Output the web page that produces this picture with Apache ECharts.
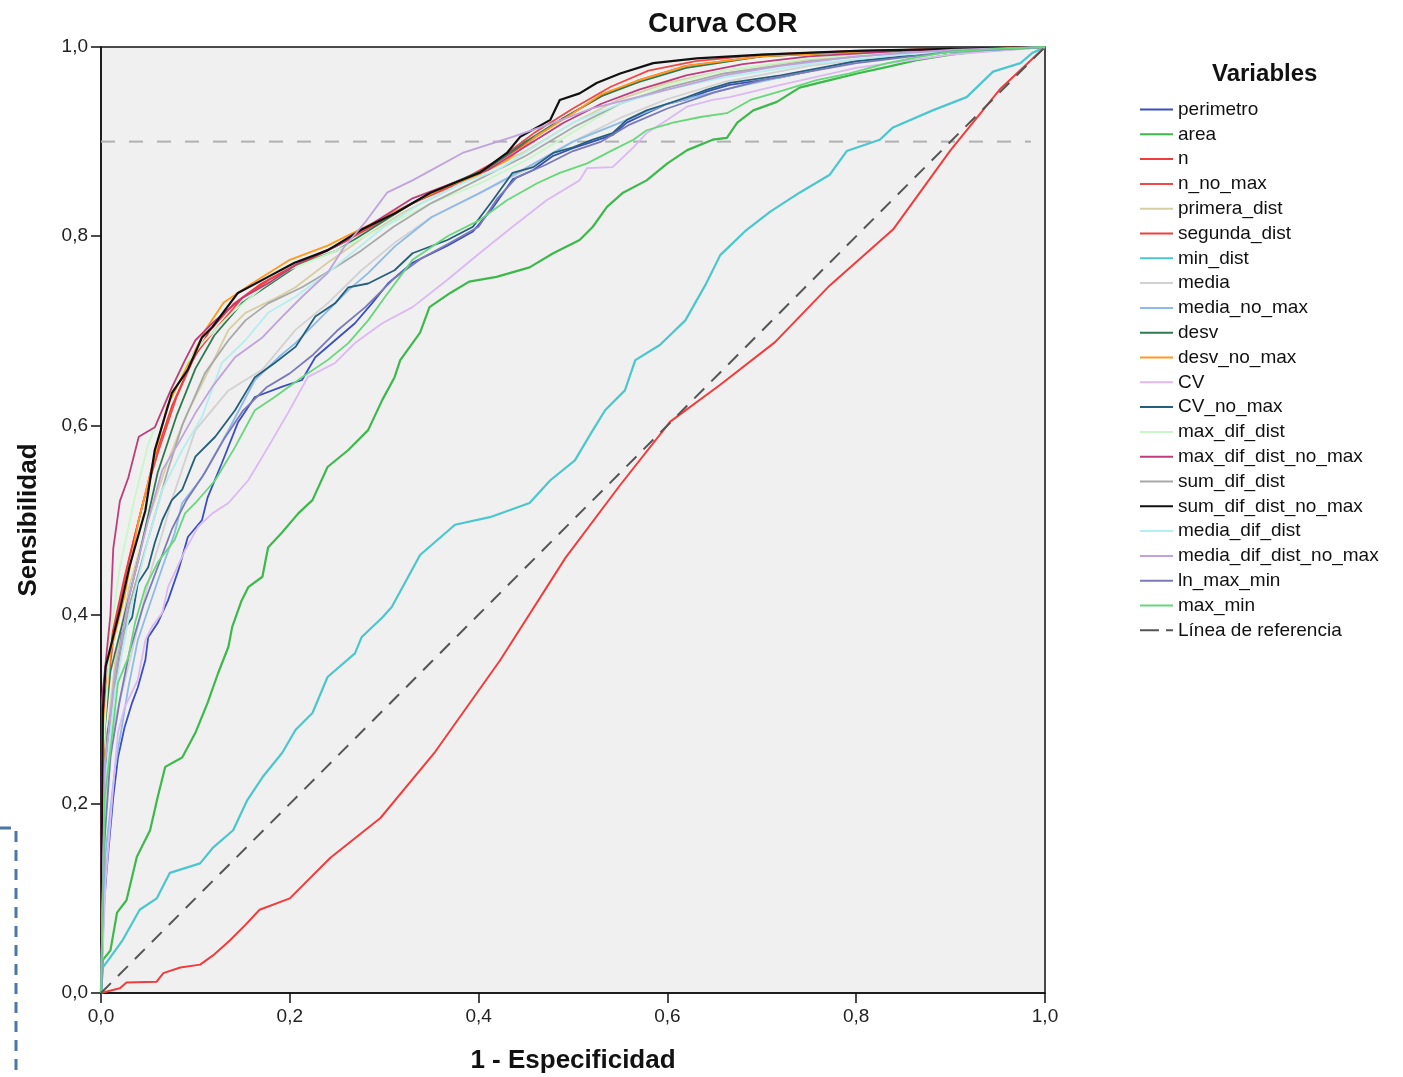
<!DOCTYPE html>
<html>
<head>
<meta charset="utf-8">
<script src="https://cdn.jsdelivr.net/npm/echarts@6/dist/echarts.min.js"></script>
<style>
  html, body { margin: 0; padding: 0; background: #fff; }
  #roc { width: 1403px; height: 1077px; }
</style>
</head>
<body>
<div id="roc"></div>
<script>
// curvas COR: [1 - especificidad, sensibilidad]
var perimetro = [[0,0],[0.003,0.09],[0.006,0.13],[0.013,0.207],[0.018,0.249],[0.025,0.281],[0.033,0.307],[0.039,0.323],[0.047,0.352],[0.05,0.376],[0.06,0.391],[0.071,0.415],[0.082,0.447],[0.092,0.482],[0.107,0.5],[0.113,0.524],[0.128,0.56],[0.145,0.603],[0.163,0.63],[0.192,0.641],[0.213,0.648],[0.227,0.672],[0.248,0.69],[0.269,0.708],[0.287,0.729],[0.304,0.75],[0.33,0.772],[0.367,0.79],[0.394,0.805],[0.415,0.83],[0.436,0.86],[0.458,0.87],[0.479,0.885],[0.5,0.893],[0.521,0.9],[0.542,0.907],[0.557,0.92],[0.578,0.93],[0.6,0.94],[0.621,0.945],[0.642,0.953],[0.666,0.96],[0.72,0.968],[0.8,0.985],[0.9,0.995],[1,1]];
var area = [[0,0],[0.002,0.035],[0.01,0.045],[0.017,0.085],[0.027,0.098],[0.038,0.144],[0.052,0.172],[0.06,0.207],[0.068,0.239],[0.086,0.249],[0.1,0.275],[0.113,0.307],[0.124,0.338],[0.135,0.366],[0.139,0.387],[0.149,0.415],[0.156,0.429],[0.171,0.44],[0.177,0.471],[0.192,0.487],[0.209,0.507],[0.224,0.521],[0.24,0.556],[0.262,0.574],[0.283,0.595],[0.298,0.627],[0.311,0.651],[0.317,0.669],[0.338,0.698],[0.348,0.725],[0.37,0.74],[0.39,0.752],[0.419,0.757],[0.454,0.767],[0.479,0.782],[0.507,0.796],[0.521,0.81],[0.536,0.831],[0.553,0.846],[0.578,0.859],[0.6,0.877],[0.621,0.891],[0.648,0.902],[0.663,0.904],[0.674,0.92],[0.691,0.933],[0.716,0.942],[0.74,0.957],[0.772,0.965],[0.801,0.972],[0.833,0.979],[0.864,0.986],[0.9,0.992],[0.928,0.995],[1,1]];
var n = [[0,0],[0.02,0.005],[0.027,0.011],[0.059,0.012],[0.066,0.021],[0.084,0.027],[0.105,0.03],[0.119,0.04],[0.137,0.056],[0.153,0.072],[0.168,0.088],[0.2,0.1],[0.243,0.143],[0.296,0.185],[0.354,0.255],[0.423,0.352],[0.492,0.46],[0.55,0.537],[0.603,0.604],[0.656,0.643],[0.714,0.688],[0.772,0.748],[0.839,0.807],[0.9,0.891],[0.952,0.955],[1,1]];
var n_no_max = [[0,0],[0.004,0.3],[0.015,0.39],[0.03,0.46],[0.045,0.52],[0.06,0.57],[0.08,0.63],[0.1,0.675],[0.12,0.7],[0.15,0.735],[0.18,0.755],[0.22,0.775],[0.26,0.795],[0.3,0.82],[0.34,0.84],[0.38,0.858],[0.42,0.88],[0.46,0.91],[0.5,0.935],[0.54,0.958],[0.58,0.975],[0.63,0.985],[0.7,0.992],[0.8,0.996],[1,1]];
var primera_dist = [[0,0],[0.004,0.25],[0.015,0.35],[0.03,0.43],[0.05,0.5],[0.07,0.56],[0.09,0.61],[0.118,0.666],[0.135,0.701],[0.153,0.719],[0.188,0.736],[0.206,0.746],[0.24,0.772],[0.28,0.8],[0.32,0.825],[0.36,0.845],[0.4,0.865],[0.45,0.89],[0.5,0.92],[0.55,0.945],[0.6,0.962],[0.66,0.975],[0.75,0.987],[0.85,0.995],[1,1]];
var segunda_dist = [[0,0],[0.003,0.3],[0.012,0.38],[0.025,0.44],[0.04,0.5],[0.055,0.56],[0.075,0.62],[0.095,0.665],[0.115,0.7],[0.14,0.728],[0.17,0.75],[0.21,0.772],[0.25,0.79],[0.29,0.812],[0.33,0.835],[0.37,0.852],[0.41,0.872],[0.45,0.898],[0.49,0.925],[0.53,0.948],[0.57,0.965],[0.62,0.98],[0.7,0.99],[0.8,0.996],[1,1]];
var min_dist = [[0,0],[0.002,0.027],[0.01,0.038],[0.023,0.056],[0.041,0.088],[0.059,0.1],[0.073,0.127],[0.105,0.137],[0.119,0.154],[0.14,0.172],[0.155,0.204],[0.171,0.228],[0.192,0.254],[0.206,0.278],[0.224,0.296],[0.24,0.334],[0.269,0.359],[0.276,0.376],[0.298,0.397],[0.308,0.408],[0.338,0.463],[0.375,0.495],[0.412,0.503],[0.454,0.518],[0.476,0.542],[0.502,0.563],[0.518,0.59],[0.534,0.616],[0.555,0.637],[0.566,0.669],[0.592,0.685],[0.619,0.711],[0.64,0.748],[0.656,0.78],[0.682,0.805],[0.709,0.826],[0.74,0.846],[0.772,0.865],[0.79,0.89],[0.825,0.902],[0.839,0.915],[0.881,0.933],[0.917,0.947],[0.945,0.974],[0.974,0.983],[0.987,0.994],[1,1]];
var media = [[0,0],[0.005,0.2],[0.015,0.29],[0.029,0.345],[0.054,0.45],[0.065,0.486],[0.075,0.521],[0.1,0.595],[0.135,0.637],[0.171,0.659],[0.206,0.701],[0.24,0.729],[0.276,0.764],[0.311,0.793],[0.35,0.82],[0.4,0.845],[0.45,0.87],[0.5,0.9],[0.55,0.925],[0.6,0.945],[0.66,0.963],[0.75,0.98],[0.85,0.992],[1,1]];
var media_no_max = [[0,0],[0.005,0.15],[0.015,0.239],[0.029,0.323],[0.039,0.373],[0.047,0.397],[0.065,0.45],[0.078,0.486],[0.086,0.518],[0.107,0.545],[0.135,0.595],[0.163,0.648],[0.188,0.672],[0.206,0.687],[0.234,0.715],[0.262,0.743],[0.283,0.761],[0.311,0.789],[0.35,0.82],[0.4,0.845],[0.45,0.872],[0.5,0.9],[0.55,0.92],[0.6,0.94],[0.66,0.955],[0.72,0.968],[0.8,0.985],[0.9,0.995],[1,1]];
var desv = [[0,0],[0.003,0.27],[0.01,0.34],[0.025,0.4],[0.04,0.46],[0.06,0.55],[0.08,0.61],[0.1,0.66],[0.12,0.695],[0.15,0.73],[0.18,0.75],[0.21,0.77],[0.25,0.785],[0.29,0.81],[0.33,0.835],[0.37,0.855],[0.41,0.872],[0.45,0.9],[0.49,0.925],[0.53,0.948],[0.57,0.963],[0.62,0.978],[0.7,0.99],[0.8,0.995],[1,1]];
var desv_no_max = [[0,0],[0.003,0.28],[0.01,0.36],[0.025,0.42],[0.04,0.5],[0.055,0.56],[0.07,0.62],[0.09,0.66],[0.11,0.7],[0.13,0.73],[0.16,0.75],[0.2,0.775],[0.24,0.79],[0.28,0.81],[0.32,0.83],[0.36,0.85],[0.4,0.865],[0.43,0.88],[0.46,0.905],[0.5,0.93],[0.53,0.95],[0.57,0.965],[0.62,0.98],[0.7,0.99],[0.8,0.995],[0.9,0.998],[1,1]];
var CV = [[0,0],[0.005,0.12],[0.012,0.207],[0.018,0.275],[0.025,0.302],[0.039,0.331],[0.047,0.373],[0.054,0.387],[0.065,0.402],[0.071,0.429],[0.078,0.444],[0.089,0.468],[0.103,0.493],[0.118,0.507],[0.135,0.518],[0.156,0.542],[0.177,0.577],[0.198,0.613],[0.219,0.651],[0.248,0.666],[0.269,0.687],[0.298,0.708],[0.33,0.725],[0.367,0.754],[0.401,0.782],[0.436,0.81],[0.472,0.838],[0.507,0.859],[0.515,0.872],[0.542,0.873],[0.564,0.894],[0.578,0.909],[0.6,0.923],[0.621,0.937],[0.648,0.944],[0.666,0.947],[0.72,0.96],[0.8,0.978],[0.9,0.992],[1,1]];
var CV_no_max = [[0,0],[0.003,0.2],[0.007,0.275],[0.015,0.323],[0.022,0.38],[0.033,0.397],[0.039,0.433],[0.05,0.45],[0.057,0.476],[0.065,0.5],[0.075,0.521],[0.086,0.532],[0.1,0.567],[0.121,0.588],[0.142,0.616],[0.163,0.651],[0.184,0.666],[0.206,0.683],[0.227,0.715],[0.248,0.729],[0.262,0.746],[0.283,0.75],[0.311,0.764],[0.33,0.782],[0.367,0.796],[0.394,0.81],[0.415,0.838],[0.436,0.867],[0.458,0.873],[0.479,0.888],[0.5,0.894],[0.521,0.902],[0.542,0.909],[0.557,0.923],[0.578,0.933],[0.6,0.94],[0.621,0.947],[0.642,0.955],[0.666,0.962],[0.72,0.97],[0.8,0.985],[0.9,0.995],[1,1]];
var max_dif_dist = [[0,0],[0.002,0.25],[0.01,0.38],[0.02,0.45],[0.035,0.52],[0.05,0.58],[0.07,0.63],[0.09,0.665],[0.11,0.69],[0.14,0.72],[0.17,0.745],[0.2,0.765],[0.25,0.785],[0.3,0.81],[0.35,0.835],[0.4,0.855],[0.45,0.88],[0.5,0.91],[0.55,0.94],[0.6,0.96],[0.66,0.975],[0.75,0.988],[0.85,0.995],[1,1]];
var max_dif_dist_no_max = [[0,0],[0.001,0.31],[0.01,0.4],[0.013,0.47],[0.02,0.52],[0.029,0.545],[0.04,0.588],[0.057,0.598],[0.075,0.64],[0.089,0.669],[0.1,0.69],[0.12,0.71],[0.15,0.735],[0.18,0.752],[0.21,0.772],[0.25,0.79],[0.29,0.815],[0.33,0.84],[0.37,0.855],[0.41,0.87],[0.45,0.895],[0.49,0.92],[0.53,0.94],[0.57,0.955],[0.62,0.97],[0.68,0.982],[0.75,0.99],[0.85,0.996],[1,1]];
var sum_dif_dist = [[0,0],[0.004,0.24],[0.015,0.33],[0.03,0.41],[0.05,0.48],[0.07,0.55],[0.086,0.6],[0.11,0.655],[0.135,0.69],[0.153,0.711],[0.177,0.729],[0.213,0.746],[0.248,0.767],[0.276,0.785],[0.31,0.81],[0.35,0.835],[0.4,0.86],[0.45,0.885],[0.5,0.915],[0.55,0.94],[0.6,0.957],[0.66,0.972],[0.75,0.985],[0.85,0.994],[1,1]];
var sum_dif_dist_no_max = [[0,0],[0.002,0.3],[0.005,0.345],[0.02,0.405],[0.03,0.45],[0.047,0.51],[0.057,0.574],[0.075,0.634],[0.092,0.659],[0.107,0.693],[0.118,0.704],[0.145,0.74],[0.177,0.757],[0.205,0.772],[0.24,0.785],[0.276,0.807],[0.311,0.824],[0.349,0.846],[0.401,0.867],[0.43,0.888],[0.444,0.905],[0.476,0.923],[0.486,0.944],[0.507,0.951],[0.525,0.962],[0.55,0.972],[0.585,0.983],[0.631,0.988],[0.7,0.992],[0.8,0.996],[0.9,0.998],[1,1]];
var media_dif_dist = [[0,0],[0.004,0.22],[0.015,0.32],[0.03,0.4],[0.05,0.48],[0.065,0.532],[0.086,0.574],[0.107,0.609],[0.128,0.666],[0.153,0.69],[0.177,0.719],[0.206,0.736],[0.24,0.761],[0.269,0.785],[0.3,0.81],[0.34,0.835],[0.38,0.855],[0.42,0.87],[0.46,0.895],[0.5,0.92],[0.55,0.94],[0.6,0.955],[0.66,0.968],[0.75,0.982],[0.85,0.992],[1,1]];
var media_dif_dist_no_max = [[0,0],[0.004,0.24],[0.015,0.34],[0.03,0.42],[0.05,0.5],[0.065,0.553],[0.082,0.581],[0.1,0.613],[0.118,0.641],[0.142,0.672],[0.171,0.693],[0.192,0.715],[0.213,0.736],[0.24,0.761],[0.258,0.789],[0.28,0.815],[0.303,0.846],[0.33,0.859],[0.383,0.888],[0.436,0.905],[0.48,0.92],[0.52,0.935],[0.56,0.945],[0.6,0.955],[0.66,0.97],[0.72,0.98],[0.8,0.99],[0.9,0.997],[1,1]];
var ln_max_min = [[0,0],[0.003,0.15],[0.01,0.25],[0.02,0.31],[0.03,0.36],[0.045,0.41],[0.06,0.45],[0.075,0.49],[0.09,0.52],[0.11,0.55],[0.13,0.585],[0.15,0.615],[0.175,0.64],[0.2,0.655],[0.225,0.675],[0.25,0.7],[0.28,0.725],[0.31,0.755],[0.34,0.777],[0.37,0.793],[0.4,0.81],[0.42,0.84],[0.44,0.862],[0.47,0.875],[0.5,0.89],[0.53,0.9],[0.56,0.918],[0.6,0.935],[0.65,0.952],[0.7,0.965],[0.8,0.983],[0.9,0.995],[1,1]];
var max_min = [[0,0],[0.002,0.1],[0.004,0.207],[0.012,0.275],[0.018,0.328],[0.029,0.355],[0.036,0.391],[0.047,0.429],[0.06,0.455],[0.078,0.479],[0.089,0.507],[0.1,0.518],[0.121,0.542],[0.142,0.577],[0.163,0.616],[0.184,0.63],[0.213,0.651],[0.24,0.669],[0.262,0.687],[0.283,0.711],[0.301,0.736],[0.33,0.775],[0.367,0.8],[0.401,0.817],[0.43,0.838],[0.462,0.856],[0.486,0.867],[0.515,0.877],[0.542,0.891],[0.564,0.902],[0.578,0.912],[0.606,0.92],[0.635,0.926],[0.663,0.93],[0.688,0.944],[0.722,0.954],[0.758,0.965],[0.793,0.972],[0.833,0.983],[0.864,0.989],[0.9,0.995],[0.95,0.998],[1,1]];
var referencia = [[0,0],[1,1]];
var sensibilidad90 = [[0,0.9],[0.985,0.9]];

var curvas = [
    ['perimetro', perimetro, '#3a4fc0', 1.8],
    ['area', area, '#3cb94a', 2.2],
    ['n', n, '#f23c3c', 2],
    ['n_no_max', n_no_max, '#f24848', 1.8],
    ['primera_dist', primera_dist, '#d6cfa2', 1.8],
    ['segunda_dist', segunda_dist, '#ef4040', 1.8],
    ['min_dist', min_dist, '#4cc6ce', 2.2],
    ['media', media, '#d2d2d2', 1.8],
    ['media_no_max', media_no_max, '#8cbbe8', 1.8],
    ['desv', desv, '#2f7a50', 1.8],
    ['desv_no_max', desv_no_max, '#ff9a1e', 1.8],
    ['CV', CV, '#dcb8f5', 1.8],
    ['CV_no_max', CV_no_max, '#245f7c', 1.8],
    ['max_dif_dist', max_dif_dist, '#c8f7c8', 1.8],
    ['max_dif_dist_no_max', max_dif_dist_no_max, '#c03c7c', 1.8],
    ['sum_dif_dist', sum_dif_dist, '#a8a8a8', 1.8],
    ['sum_dif_dist_no_max', sum_dif_dist_no_max, '#111111', 2.2],
    ['media_dif_dist', media_dif_dist, '#b4eef0', 1.8],
    ['media_dif_dist_no_max', media_dif_dist_no_max, '#c0a2dc', 1.8],
    ['ln_max_min', ln_max_min, '#7a7ab8', 1.8],
    ['max_min', max_min, '#66d87a', 1.8]
];

var series = [];
// linea gris horizontal en 0,9
series.push({
    type: 'line',
    name: 'sens90',
    data: sensibilidad90,
    symbol: 'none',
    silent: true,
    lineStyle: { color: '#b0b0b0', width: 2, type: [14, 14] },
    z: 1
});
curvas.forEach(function (c) {
    series.push({
        type: 'line',
        name: c[0],
        data: c[1],
        symbol: 'none',
        lineStyle: { color: c[2], width: c[3] },
        itemStyle: { color: c[2] }
    });
});
series.push({
    type: 'line',
    name: 'Línea de referencia',
    data: referencia,
    symbol: 'none',
    lineStyle: { color: '#555555', width: 2, type: [14, 10] },
    itemStyle: { color: '#555555' }
});

var leyenda = curvas.map(function (c) { return { name: c[0], icon: 'rect' }; });
leyenda.push({ name: 'Línea de referencia', icon: 'path://M0,0h19v2h-19z M26,0h7v2h-7z' });

var fmt = function (v) { return v.toFixed(1).replace('.', ','); };

var myChart = echarts.init(document.getElementById('roc'));
var option = {
    backgroundColor: '#ffffff',
    animation: false,
    textStyle: { fontFamily: 'Liberation Sans, Arial, sans-serif' },
    title: [
        {
            text: 'Curva COR',
            left: 643, top: 5,
            textStyle: { fontSize: 28, fontWeight: 'bold', color: '#111' }
        },
        {
            text: 'Variables',
            left: 1207, top: 57,
            textStyle: { fontSize: 24, fontWeight: 'bold', color: '#111' }
        }
    ],
    legend: {
        orient: 'vertical',
        left: 1135, top: 95,
        itemWidth: 33, itemHeight: 2, itemGap: 5.8,
        data: leyenda,
        textStyle: { fontSize: 19, color: '#111', padding: [0, 0, 0, 0] }
    },
    grid: {
        left: 101, right: 358, top: 47, bottom: 84,
        outerBoundsMode: 'none',
        show: true, backgroundColor: '#f0f0f0', borderColor: '#111', borderWidth: 1.5
    },
    xAxis: {
        type: 'value', min: 0, max: 1, interval: 0.2,
        name: '1 - Especificidad', nameLocation: 'middle', nameGap: 55,
        nameTextStyle: { fontSize: 26, fontWeight: 'bold', color: '#111' },
        axisLine: { lineStyle: { color: '#111', width: 1.5 } },
        axisTick: { inside: false, length: 10, lineStyle: { color: '#111', width: 1.5 } },
        axisLabel: { formatter: fmt, fontSize: 19, color: '#222', margin: 14 },
        splitLine: { show: false }
    },
    yAxis: {
        type: 'value', min: 0, max: 1, interval: 0.2,
        name: 'Sensibilidad', nameLocation: 'middle', nameGap: 59,
        nameTextStyle: { fontSize: 26, fontWeight: 'bold', color: '#111' },
        axisLine: { lineStyle: { color: '#111', width: 1.5 } },
        axisTick: { inside: false, length: 10, lineStyle: { color: '#111', width: 1.5 } },
        axisLabel: { formatter: fmt, fontSize: 19, color: '#222', margin: 13 },
        splitLine: { show: false }
    },
    graphic: [{
        type: 'polyline',
        shape: { points: [[0, 828], [13, 828], [16, 828], [16, 1077]] },
        style: { stroke: '#4a77a8', lineWidth: 3, lineDash: [11, 8], fill: null }
    }],
    series: series
};

myChart.setOption(option);
</script>
</body>
</html>
